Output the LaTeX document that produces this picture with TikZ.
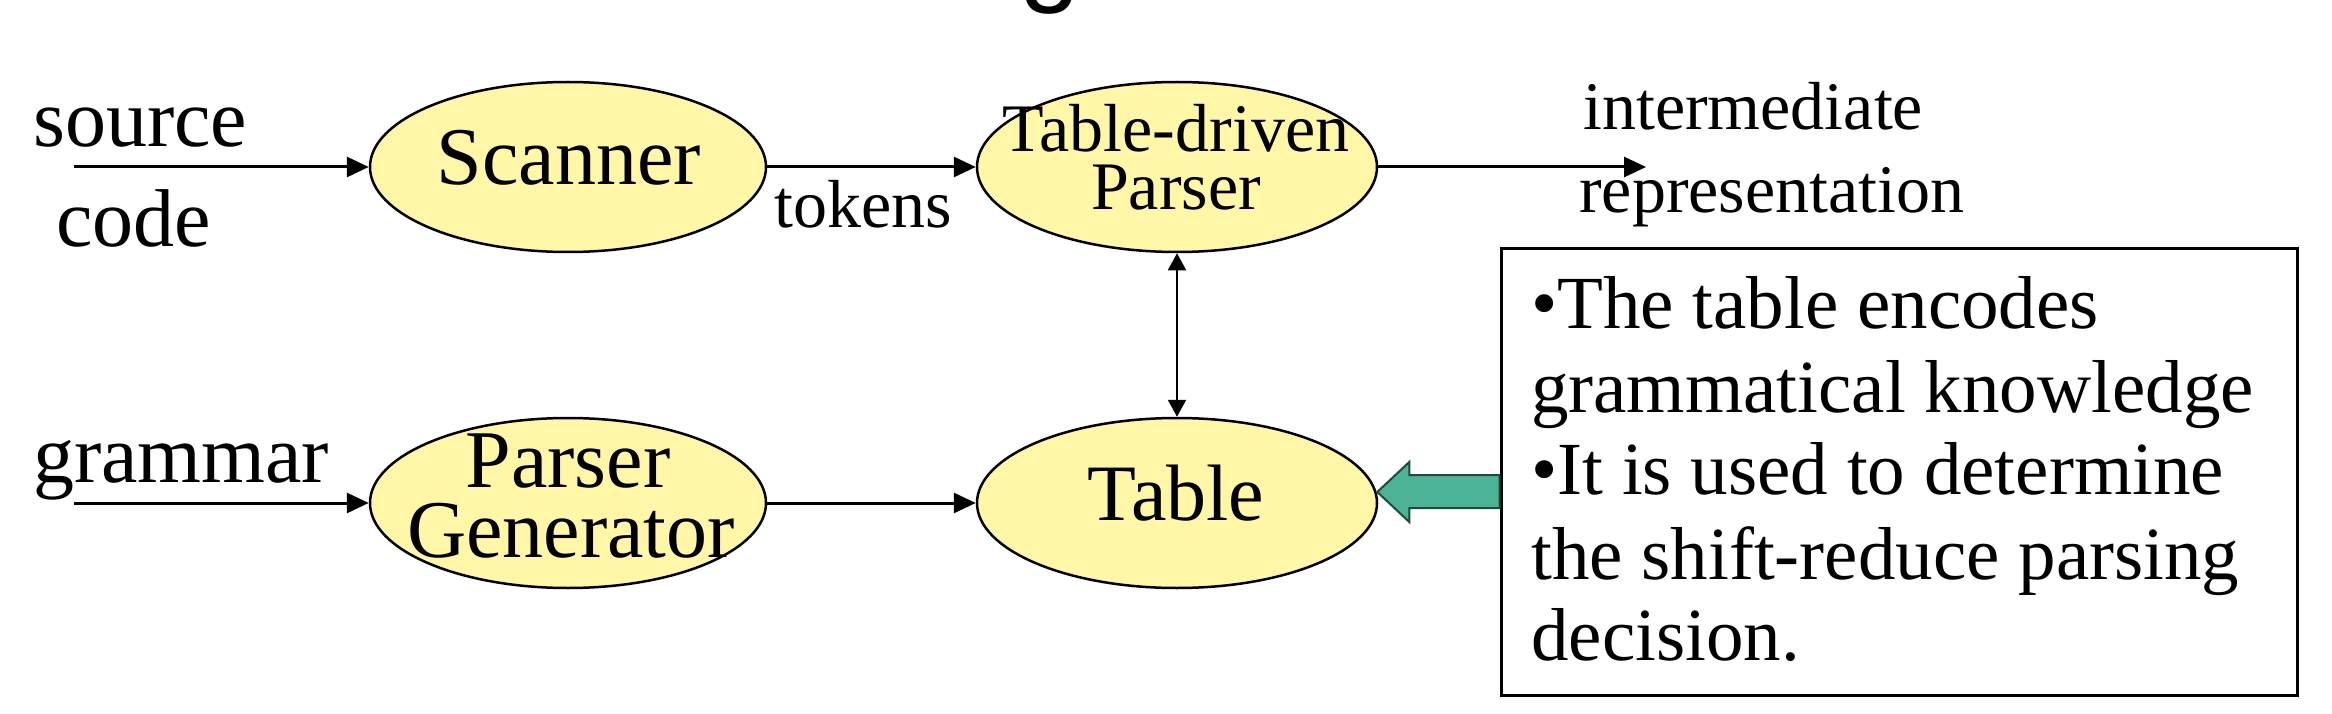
\documentclass[tikz,border=0pt]{standalone}
\usepackage{fontspec}
\setmainfont{Liberation Serif}
\newfontfamily\titlefont{Liberation Sans}
\usetikzlibrary{shapes.geometric,arrows.meta,calc}
\definecolor{ellfill}{HTML}{FFF6A8}
\definecolor{tealarrow}{HTML}{4DB396}
\definecolor{tealedge}{HTML}{1E4A40}
\begin{document}
\begin{tikzpicture}[x=1pt,y=-1pt,
  proc/.style={ellipse,draw=black,line width=2.5pt,fill=ellfill,inner sep=0pt,minimum height=170pt},
  txt/.style={inner sep=0pt,anchor=base},
  txtl/.style={inner sep=0pt,anchor=base west},
  fbig/.style={font=\fontsize{82}{90}\selectfont},
  fmid/.style={font=\fontsize{68}{75}\selectfont},
  fnote/.style={font=\fontsize{75}{83}\selectfont},
  arr/.style={line width=3pt,-{Triangle[length=22pt,width=20pt]}},
  darr/.style={line width=2pt,{Triangle[length=17pt,width=18pt]}-{Triangle[length=17pt,width=18pt]}},
  notebox/.style={draw=black,line width=3pt,fill=white,inner sep=0pt,minimum width=796pt,minimum height=446pt},
  greenarr/.style={draw=tealedge,line width=2pt,fill=tealarrow,line join=miter}
]
\useasboundingbox (0,0) rectangle (2332,714);
\fill[white] (0,0) rectangle (2332,714);
% fragment of the title letter cut off at the top
\begin{scope}
\clip (0,0) rectangle (2332,714);
\node[txt,font=\titlefont\fontsize{110}{120}\selectfont] (titleg) at (1050,-8) {g};
\end{scope}

% ellipses
\node[proc,minimum width=396pt] (scanner) at (568,167) {};
\node[proc,minimum width=400pt] (parser) at (1177,167) {};
\node[proc,minimum width=396pt] (pgen) at (568,503) {};
\node[proc,minimum width=400pt] (table) at (1177,503) {};

% texts inside ellipses
\node[txt,fbig] (scannerT) at (569,185) {Scanner};
\node[txt,fmid] (parserT1) at (1176,152) {Table-driven};
\node[txt,fmid] (parserT2) at (1176,210) {Parser};
\node[txt,fbig] (pgenT1) at (568,487) {Parser};
\node[txt,fbig] (pgenT2) at (571,557) {Generator};
\node[txt,font=\fontsize{80}{88}\selectfont] (tableT) at (1176,520) {Table};

% outside labels
\node[txtl,fbig] (srcA) at (33,147) {source};
\node[txtl,fbig] (srcB) at (56,247) {code};
\node[txtl,fbig] (gram) at (33,482) {grammar};
\node[txtl,fmid] (tokens) at (774,228) {tokens};
\node[txtl,fmid] (irA) at (1583,130) {intermediate};
\node[txtl,fmid] (irB) at (1579,213) {representation};

% note box
\node[notebox] (note) at (1899,472) {};
\node[txtl,fnote] (n1) at (1531,328) {•The table encodes};
\node[txtl,fnote] (n2) at (1531,412) {grammatical knowledge};
\node[txtl,fnote] (n3) at (1531,494) {•It is used to determine};
\node[txtl,fnote] (n4) at (1531,579) {the shift-reduce parsing};
\node[txtl,fnote] (n5) at (1531,660) {decision.};

% connectors
\coordinate (srcin) at (74,167);
\coordinate (gramin) at (74,503);
\coordinate (irout) at (1646,167);
\draw[arr] (srcin) -- (scanner);
\draw[arr] (scanner) -- (parser);
\draw[arr] (parser) -- (irout);
\draw[arr] (gramin) -- (pgen);
\draw[arr] (pgen) -- (table);
\draw[darr] (parser) -- (table);

% green block arrow from the note to the table
\coordinate (tip) at ($(table.east)+(-1,-11)$);
\path (tip) ++(32,0) coordinate (hb);
\draw[greenarr] (tip) -- ($(hb)+(0,-30)$) -- ($(hb)+(0,-17)$)
  -- ($(note.west|-hb)+(0,-17)$) -- ($(note.west|-hb)+(0,16)$)
  -- ($(hb)+(0,16)$) -- ($(hb)+(0,30)$) -- cycle;
\end{tikzpicture}
\end{document}
